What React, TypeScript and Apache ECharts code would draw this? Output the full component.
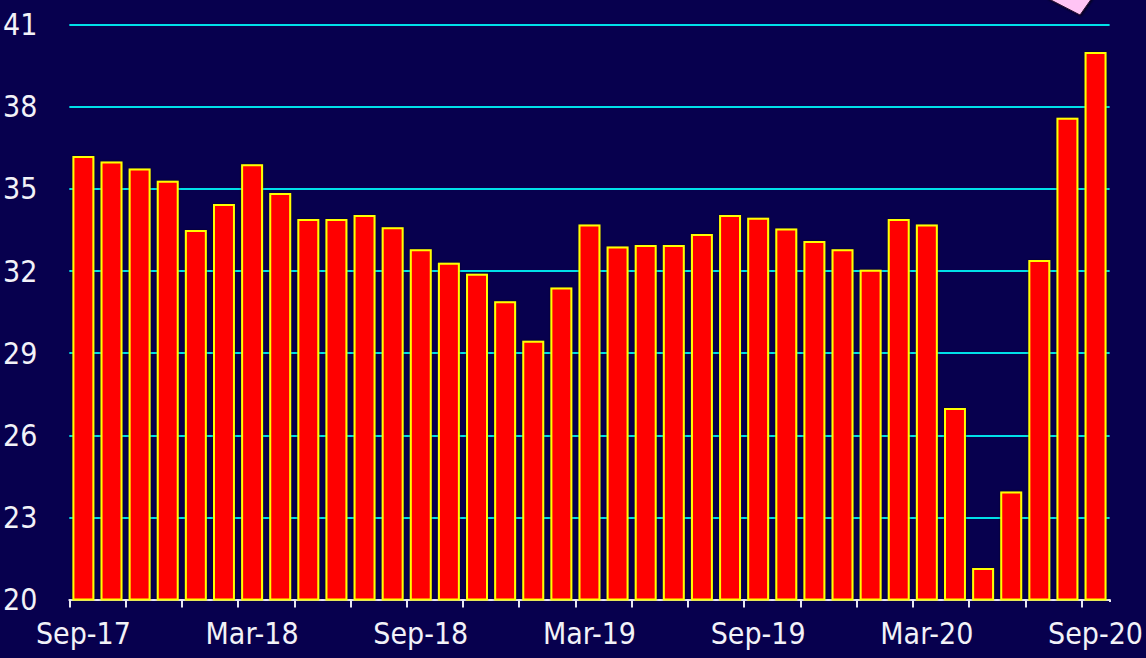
import React, { useEffect, useRef } from "react";
import * as echarts from "echarts";

const categories = [
  "Sep-17", "Oct-17", "Nov-17", "Dec-17", "Jan-18", "Feb-18", "Mar-18", "Apr-18", "May-18", "Jun-18",
  "Jul-18", "Aug-18", "Sep-18", "Oct-18", "Nov-18", "Dec-18", "Jan-19", "Feb-19", "Mar-19", "Apr-19",
  "May-19", "Jun-19", "Jul-19", "Aug-19", "Sep-19", "Oct-19", "Nov-19", "Dec-19", "Jan-20", "Feb-20",
  "Mar-20", "Apr-20", "May-20", "Jun-20", "Jul-20", "Aug-20", "Sep-20",
];

const values = [
  36.2, 36.0, 35.75, 35.3, 33.5, 34.45, 35.9, 34.85, 33.9, 33.9,
  34.05, 33.6, 32.8, 32.3, 31.9, 30.9, 29.45, 31.4, 33.7, 32.9,
  32.95, 32.95, 33.35, 34.05, 33.95, 33.55, 33.1, 32.8, 32.05, 33.9,
  33.7, 27.0, 21.15, 23.95, 32.4, 37.6, 40.0,
];

const yMin = 20;
const yMax = 41;
const yStep = 3;

const BG = "#07004E";
const FONT = "'Liberation Sans Narrow', 'Arial Narrow', 'DejaVu Sans Condensed', 'Liberation Sans', sans-serif";

export default function App() {
  const ref = useRef<HTMLDivElement>(null);
  useEffect(() => {
    if (!ref.current) return;
    const chart = echarts.init(ref.current, undefined, { renderer: "svg" });
    chart.setOption({
      animation: false,
      backgroundColor: BG,
      grid: { left: 68, right: 35, top: 24.7, bottom: 58.5, containLabel: false },
      xAxis: {
        type: "category",
        data: categories,
        boundaryGap: true,
        axisLine: { show: true, lineStyle: { color: "#e8e8f0", width: 2 } },
        axisTick: { show: true, interval: 1, length: 8, lineStyle: { color: "#e8e8f0", width: 2 } },
        axisLabel: {
          interval: 5,
          color: "#f2f2f8",
          fontFamily: FONT,
          fontSize: 30,
          margin: 19,
        },
        splitLine: { show: false },
      },
      yAxis: {
        type: "value",
        min: yMin,
        max: yMax,
        interval: yStep,
        axisLine: { show: false },
        axisTick: { show: false },
        axisLabel: {
          color: "#f2f2f8",
          fontFamily: FONT,
          fontSize: 30,
          margin: 32,
        },
        splitLine: { show: true, lineStyle: { color: "#00e0e8", width: 2 } },
      },
      series: [
        {
          type: "bar",
          data: values,
          barCategoryGap: "22%",
          itemStyle: {
            color: "#ff0000",
            borderColor: "#ffff00",
            borderWidth: 2,
            shadowColor: "rgba(0,0,0,0.5)",
            shadowBlur: 2,
          },
        },
      ],
      graphic: [
        {
          type: "rect",
          shape: { x: 1108, y: 602, width: 8, height: 10 },
          style: { fill: BG },
          z: 100,
        },
        {
          type: "polygon",
          shape: { points: [[1047, -2], [1080, 15], [1092, -2]] },
          style: {
            fill: "#ffc4f4",
            stroke: "#2a1030",
            lineWidth: 1,
            shadowColor: "rgba(0,0,0,0.6)",
            shadowBlur: 2,
            shadowOffsetX: 1,
            shadowOffsetY: 1,
          },
        },
      ],
    });
    return () => chart.dispose();
  }, []);
  return (
    <div
      ref={ref}
      style={{ position: "fixed", left: 0, top: 0, width: 1146, height: 658 }}
    />
  );
}
